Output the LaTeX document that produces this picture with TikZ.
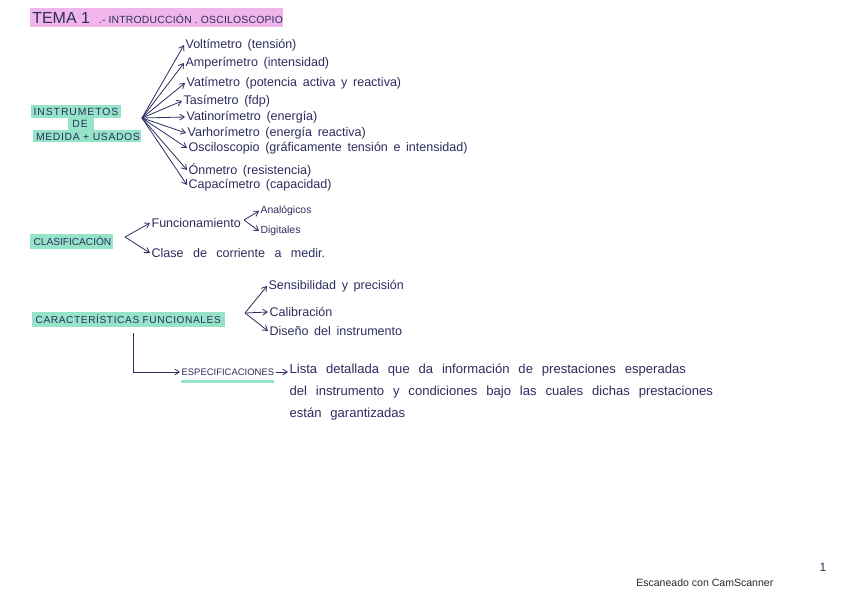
\documentclass[tikz,border=0pt]{standalone}
\usepackage{fontspec}
\setmainfont{Liberation Sans}
\usetikzlibrary{arrows.meta}
\definecolor{ink}{RGB}{45,45,95}
\definecolor{hlgreen}{RGB}{150,228,200}
\definecolor{hlpink}{RGB}{240,182,236}
\definecolor{scan}{RGB}{40,40,40}
\newcommand\wsp[1]{\spaceskip #1\relax}
\newfontfamily\capsfont[LetterSpace=6]{Liberation Sans}
\newfontfamily\capsfontw[LetterSpace=9]{Liberation Sans}
\newfontfamily\capsfontn[LetterSpace=2]{Liberation Sans}
\tikzset{
  txt/.style={anchor=west,inner sep=1pt,text=ink,font=\fontsize{9.4}{11}\selectfont\wsp{0.45em}},
  head/.style={anchor=west,inner sep=1pt,text=ink,font=\fontsize{7.6}{9}\selectfont},
  conn/.style={draw=ink,line width=0.6pt,-{Straight Barb[length=3.5pt,width=4.5pt]}},
}
\begin{document}
\begin{tikzpicture}[x=0.75pt,y=-0.75pt]
\useasboundingbox (0,0) rectangle (848,599);
\fill[white] (0,0) rectangle (848,599);
% title
\fill[hlpink] (30,8) rectangle (283,27);
\node[anchor=west,inner sep=0pt,text=ink] (title) at (32,18)
  {\fontsize{12}{12}\selectfont TEMA 1\ \ {\capsfontn\fontsize{7.8}{9}\selectfont .- INTRODUCCIÓN . OSCILOSCOPIO}};
% instrumentos
\fill[hlgreen] (31,105) rectangle (121,118);
\fill[hlgreen] (68,118) rectangle (94,130);
\fill[hlgreen] (33,130) rectangle (141,142);
\node[head,anchor=center,font=\capsfontw\fontsize{7.8}{9}\selectfont] (ins1) at (76,111.5) {INSTRUMETOS};
\node[head,anchor=center,font=\capsfontw\fontsize{7.8}{9}\selectfont] (ins2) at (80,124) {DE};
\node[head,anchor=center,font=\capsfont\fontsize{7.8}{9}\selectfont] (ins3) at (88,136.5) {MEDIDA + USADOS};
\coordinate (o) at (142,118);
\node[txt] (v1) at (184,45) {Voltímetro (tensión)};
\node[txt] (v2) at (184,63) {Amperímetro (intensidad)};
\node[txt] (v3) at (185,83) {Vatímetro (potencia activa y reactiva)};
\node[txt] (v4) at (182,101) {Tasímetro (fdp)};
\node[txt] (v5) at (185,117) {Vatinorímetro (energía)};
\node[txt] (v6) at (186,133) {Varhorímetro (energía reactiva)};
\node[txt] (v7) at (187,148) {Osciloscopio (gráficamente tensión e intensidad)};
\node[txt] (v8) at (187,170) {Ónmetro (resistencia)};
\node[txt] (v9) at (187,185) {Capacímetro (capacidad)};
\foreach \n in {v1,v2,v3,v4,v5,v6,v7,v8,v9} \draw[conn] (o) -- (\n.west);
% clasificacion
\fill[hlgreen] (30,234) rectangle (113,249);
\node[head,font=\fontsize{7.6}{9}\selectfont] (cla) at (32,241) {CLASIFICACIÓN};
\coordinate (c0) at (125,237);
\node[txt] (fu) at (150,223) {Funcionamiento};
\node[txt,font=\fontsize{9.4}{11}\selectfont\wsp{0.75em}] (cl) at (150,253) {Clase de corriente a medir.};
\draw[conn] (c0) -- (fu.west);
\draw[conn] (c0) -- (cl.west);
\coordinate (f0) at (244,220);
\node[txt,font=\fontsize{7.8}{9}\selectfont] (an) at (259,211) {Analógicos};
\node[txt,font=\fontsize{7.8}{9}\selectfont] (dg) at (259,231) {Digitales};
\draw[conn] (f0) -- (an.west);
\draw[conn] (f0) -- (dg.west);
% caracteristicas
\fill[hlgreen] (32,312) rectangle (225,327);
\node[head,font=\capsfont\fontsize{7.6}{9}\selectfont] (car) at (34,319.5) {CARACTERÍSTICAS FUNCIONALES};
\coordinate (k0) at (245,313);
\node[txt] (sp) at (267,286) {Sensibilidad y precisión};
\node[txt] (cb) at (268,312) {Calibración};
\node[txt] (di) at (268,331) {Diseño del instrumento};
\draw[conn] (k0) -- (sp.west);
\draw[conn] (k0) -- (cb.west);
\draw[conn] (k0) -- (di.west);
% especificaciones
\coordinate (e0) at (133,333);
\node[head,font=\fontsize{7.1}{9}\selectfont] (es) at (180,372) {ESPECIFICACIONES};
\fill[hlgreen] (181,380) rectangle (274,383);
\draw[conn] (e0) |- (es.west);
\node[txt,anchor=north west,align=left,font=\fontsize{9.8}{16.5}\selectfont\wsp{0.68em}] (li) at (288,362)
  {Lista detallada que da información de prestaciones esperadas\\
   del instrumento y condiciones bajo las cuales dichas prestaciones\\
   están garantizadas};
\draw[conn] (es.east) -- (li.west |- es.east);
% footer
\node[anchor=west,inner sep=0pt,text=scan,font=\fontsize{7.9}{10}\selectfont] (cs) at (636,583) {Escaneado con CamScanner};
\node[anchor=center,inner sep=0pt,text=ink,font=\fontsize{9}{10}\selectfont] (pg) at (823,567) {1};
\end{tikzpicture}
\end{document}
